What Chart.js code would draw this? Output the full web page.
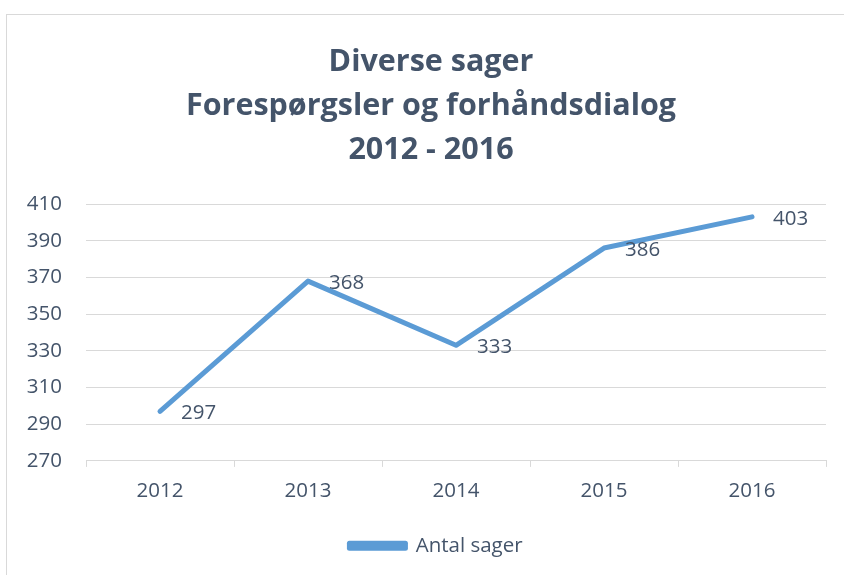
<!DOCTYPE html>
<html>
<head>
<meta charset="utf-8">
<script src="https://cdn.jsdelivr.net/npm/chart.js@4"></script>
<style>
  html, body { margin: 0; padding: 0; background: #fff; }
  #wrap { position: relative; width: 844px; height: 575px; }
</style>
</head>
<body>
<div id="wrap"><canvas id="myChart" width="844" height="575"></canvas></div>
<script>
// Data
const years = ['2012', '2013', '2014', '2015', '2016'];
const antalSager = [297, 368, 333, 386, 403];
const yTicks = [270, 290, 310, 330, 350, 370, 390, 410];

const textColor = '#44546A';
const lineColor = '#5B9BD5';
const gridColor = '#D9D9D9';
const fontFamily = '"Open Sans", sans-serif';
const labelSize = 20.5;

// Light frame around the chart (cut off at right/bottom)
const framePlugin = {
    id: 'frame',
    beforeDraw(chart) {
        const ctx = chart.ctx;
        ctx.save();
        ctx.strokeStyle = '#D9D9D9';
        ctx.lineWidth = 1;
        ctx.strokeRect(6.5, 14.5, 900, 700);
        ctx.restore();
    }
};

// Nudge title and legend to the right so they sit centred on the frame
const centerBlocks = {
    id: 'centerBlocks',
    afterLayout(chart) {
        if (chart.titleBlock) chart.titleBlock.left += 14;
        if (chart.legend) chart.legend.left += 24;
    }
};

// Value labels to the right of each point
const valueLabels = {
    id: 'valueLabels',
    afterDatasetsDraw(chart) {
        const ctx = chart.ctx;
        const meta = chart.getDatasetMeta(0);
        ctx.save();
        ctx.font = labelSize + 'px ' + fontFamily;
        ctx.fillStyle = textColor;
        ctx.textAlign = 'left';
        ctx.textBaseline = 'middle';
        meta.data.forEach((pt, i) => {
            ctx.fillText(String(chart.data.datasets[0].data[i]), pt.x + 21, pt.y + 2);
        });
        ctx.restore();
    }
};

function createChart() {
    const ctx = document.getElementById('myChart').getContext('2d');
    new Chart(ctx, {
        type: 'line',
        data: {
            labels: years,
            datasets: [{
                label: 'Antal sager',
                data: antalSager,
                borderColor: lineColor,
                backgroundColor: lineColor,
                borderWidth: 5,
                borderCapStyle: 'round',
                borderJoinStyle: 'round',
                pointRadius: 0,
                tension: 0
            }]
        },
        options: {
            responsive: false,
            animation: false,
            layout: { padding: { top: 40, left: 22, right: 18, bottom: 9 } },
            scales: {
                x: {
                    offset: true,
                    grid: {
                        offset: true,
                        drawOnChartArea: false,
                        drawTicks: true,
                        tickLength: 6,
                        color: gridColor
                    },
                    border: { display: true, color: gridColor, width: 1 },
                    ticks: {
                        color: textColor,
                        font: { family: fontFamily, size: labelSize },
                        padding: 12
                    },
                    afterFit(axis) {
                        axis.height += 10;
                    }
                },
                y: {
                    min: 270,
                    max: 410,
                    afterBuildTicks(axis) {
                        axis.ticks = yTicks.map(v => ({ value: v }));
                    },
                    afterFit(axis) {
                        axis.width = 64;
                    },
                    grid: { color: gridColor, drawTicks: false },
                    border: { display: false },
                    ticks: {
                        color: textColor,
                        font: { family: fontFamily, size: labelSize },
                        padding: 24
                    }
                }
            },
            plugins: {
                title: {
                    display: true,
                    text: ['Diverse sager', 'Forespørgsler og forhåndsdialog', '2012 - 2016'],
                    color: textColor,
                    font: { family: fontFamily, size: 30.5, weight: 'bold', lineHeight: 1.443 },
                    padding: { top: 0, bottom: 32 }
                },
                legend: {
                    display: true,
                    position: 'bottom',
                    labels: {
                        color: textColor,
                        font: { family: fontFamily, size: labelSize },
                        boxWidth: 56,
                        boxHeight: 5,
                        padding: 10
                    }
                },
                tooltip: { enabled: false }
            }
        },
        plugins: [framePlugin, centerBlocks, valueLabels]
    });
}

createChart();
</script>
</body>
</html>
